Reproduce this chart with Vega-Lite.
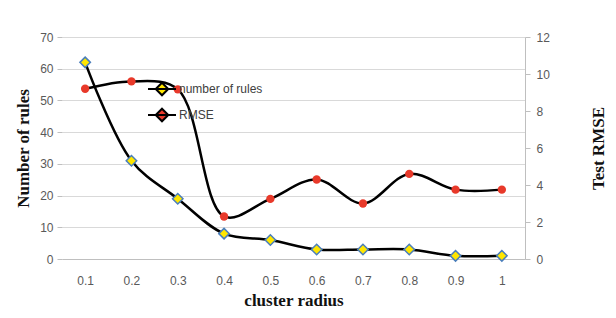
{
  "$schema": "https://vega.github.io/schema/vega-lite/v6.json",
  "width": 463,
  "height": 222,
  "autosize": {"type": "none"},
  "padding": {"left": 62, "top": 37, "right": 91, "bottom": 59},
  "background": "white",
  "config": {
    "view": {"stroke": null},
    "axis": {"labelFont": "Liberation Sans", "labelFontSize": 12, "labelColor": "#595959", "titleFont": "Liberation Serif", "titleFontSize": 17, "titleFontWeight": "bold", "titleColor": "#111111"}
  },
  "data": {
    "values": [
      {"r": "0.1", "series": "number of rules", "v": 62},
      {"r": "0.2", "series": "number of rules", "v": 31},
      {"r": "0.3", "series": "number of rules", "v": 19},
      {"r": "0.4", "series": "number of rules", "v": 8},
      {"r": "0.5", "series": "number of rules", "v": 6},
      {"r": "0.6", "series": "number of rules", "v": 3},
      {"r": "0.7", "series": "number of rules", "v": 3},
      {"r": "0.8", "series": "number of rules", "v": 3},
      {"r": "0.9", "series": "number of rules", "v": 1},
      {"r": "1", "series": "number of rules", "v": 1},
      {"r": "0.1", "series": "RMSE", "v": 9.2},
      {"r": "0.2", "series": "RMSE", "v": 9.6},
      {"r": "0.3", "series": "RMSE", "v": 9.17},
      {"r": "0.4", "series": "RMSE", "v": 2.3},
      {"r": "0.5", "series": "RMSE", "v": 3.25},
      {"r": "0.6", "series": "RMSE", "v": 4.3},
      {"r": "0.7", "series": "RMSE", "v": 3.0},
      {"r": "0.8", "series": "RMSE", "v": 4.6},
      {"r": "0.9", "series": "RMSE", "v": 3.75},
      {"r": "1", "series": "RMSE", "v": 3.75}
    ]
  },
  "encoding": {
    "x": {
      "field": "r", "type": "ordinal", "sort": null,
      "scale": {"type": "point", "padding": 0.5},
      "axis": {"title": "cluster radius", "labelAngle": 0, "ticks": false, "domainColor": "#bfbfbf", "labelPadding": 16, "titlePadding": 6}
    }
  },
  "layer": [
    {
      "transform": [{"filter": "datum.series === 'number of rules'"}],
      "encoding": {
        "y": {
          "field": "v", "type": "quantitative",
          "scale": {"domain": [0, 70]},
          "axis": {"title": "Number of rules", "values": [0,10,20,30,40,50,60,70], "domain": false, "tickColor": "#bfbfbf", "tickSize": 5, "gridColor": "#d9d9d9", "labelPadding": 4, "titlePadding": 7}
        }
      },
      "layer": [
        {"mark": {"type": "line", "interpolate": "catmull-rom", "color": "black", "strokeWidth": 2.5}},
        {
          "mark": {"type": "point", "shape": "diamond", "filled": true, "size": 110, "opacity": 1},
          "encoding": {
            "color": {
              "field": "series", "type": "nominal",
              "scale": {"domain": ["number of rules", "RMSE"], "range": ["#ffe600", "#e8392a"]},
              "legend": {
                "title": null, "orient": "none", "legendX": 85, "legendY": 37,
                "labelFont": "Liberation Sans", "labelFontSize": 12, "labelColor": "#404040",
                "rowPadding": -4, "labelOffset": 2, "symbolSize": 784,
                "symbolType": "M-1,0H1M0,-0.45L0.45,0L0,0.45L-0.45,0Z",
                "symbolStrokeColor": "black", "symbolStrokeWidth": 2
              }
            }
          }
        },
        {"mark": {"type": "point", "shape": "diamond", "filled": false, "size": 110, "stroke": "#4a7ebb", "strokeWidth": 1.5, "opacity": 1}}
      ]
    },
    {
      "transform": [{"filter": "datum.series === 'RMSE'"}],
      "encoding": {
        "y": {
          "field": "v", "type": "quantitative",
          "scale": {"domain": [0, 12]},
          "axis": {"title": "Test RMSE", "orient": "right", "values": [0,2,4,6,8,10,12], "grid": false, "domainColor": "#bfbfbf", "tickColor": "#bfbfbf", "tickSize": 5, "labelPadding": 6, "titleAngle": 270, "titlePadding": 58}
        }
      },
      "layer": [
        {"mark": {"type": "line", "interpolate": "catmull-rom", "color": "black", "strokeWidth": 2.5}},
        {"mark": {"type": "circle", "size": 70, "opacity": 1, "color": "#e8392a"}}
      ]
    }
  ],
  "resolve": {"scale": {"y": "independent"}}
}
